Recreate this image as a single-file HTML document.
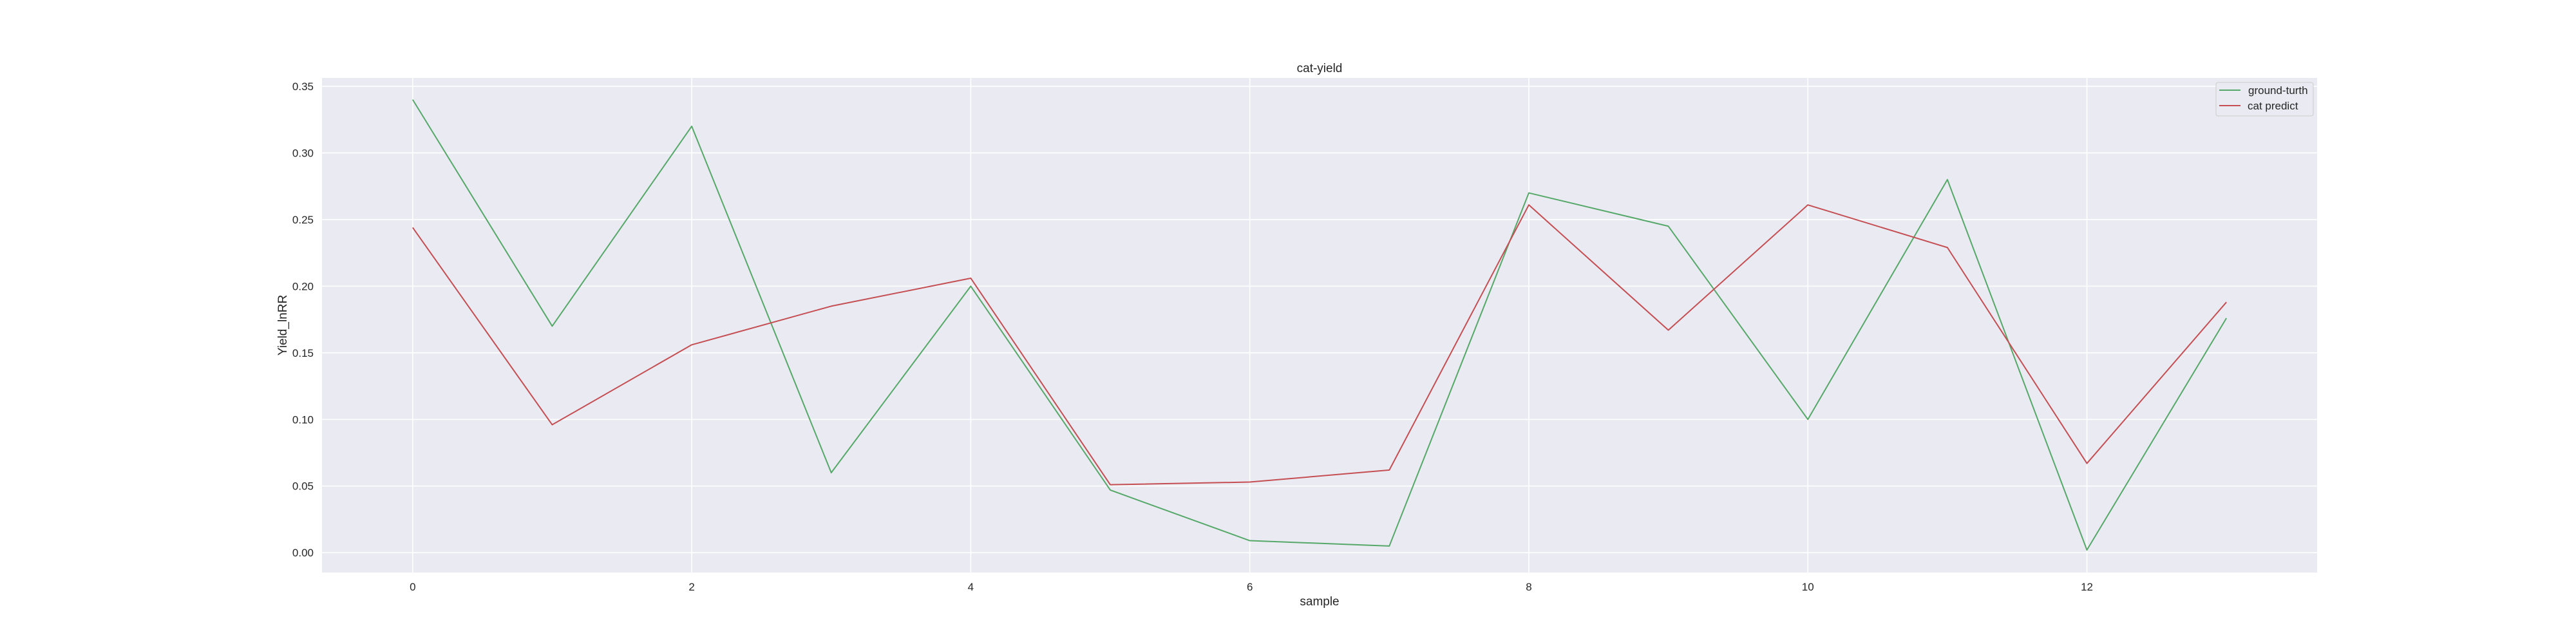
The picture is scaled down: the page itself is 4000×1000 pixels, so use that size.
<!DOCTYPE html>
<html><head><meta charset="utf-8"><style>
html,body{margin:0;padding:0;background:#fff;width:4000px;height:1000px;overflow:hidden}
text{font-family:"Liberation Sans",sans-serif;fill:#262626}
</style></head><body>
<svg id="chart" width="4000" height="1000" xmlns="http://www.w3.org/2000/svg">
<rect x="500" y="121" width="3098" height="768" fill="#eaeaf2"/>
<g id="grid"></g>
<g id="series"></g>
<g id="ticks"></g>
<text x="2049" y="112" font-size="19" text-anchor="middle">cat-yield</text>
<text x="2049" y="940" font-size="19" text-anchor="middle">sample</text>
<text x="0" y="0" font-size="19" text-anchor="middle" transform="translate(445,505) rotate(-90)">Yield_lnRR</text>
<g>
<rect x="3441" y="128" width="151" height="52" rx="3" fill="#eaeaf2" stroke="#cccccc" stroke-width="1"/>
<line x1="3446" y1="140" x2="3479" y2="140" stroke="#55a868" stroke-width="2"/>
<text x="3491" y="146" font-size="17">ground-turth</text>
<line x1="3446" y1="164" x2="3479" y2="164" stroke="#c44e52" stroke-width="2"/>
<text x="3490" y="170" font-size="17">cat predict</text>
</g>
</svg>
<script>
const samples=[0,1,2,3,4,5,6,7,8,9,10,11,12,13];
const groundTruth=[0.34,0.17,0.32,0.06,0.20,0.047,0.009,0.005,0.27,0.245,0.10,0.28,0.002,0.176];
const catPredict=[0.244,0.096,0.156,0.185,0.206,0.051,0.053,0.062,0.261,0.167,0.261,0.229,0.067,0.188];
const xTicks=[0,2,4,6,8,10,12];
const yTicks=[0,0.05,0.10,0.15,0.20,0.25,0.30,0.35];

const NS="http://www.w3.org/2000/svg";
const L=500,R=3598,T=121,B=889;
const xmin=-0.65,xmax=13.65,ymin=-0.0149,ymax=0.3563;
function xs(v){return L+(v-xmin)/(xmax-xmin)*(R-L);}
function ys(v){return B-(v-ymin)/(ymax-ymin)*(B-T);}
function mk(tag,attrs,parent){const e=document.createElementNS(NS,tag);for(const k in attrs)e.setAttribute(k,attrs[k]);parent.appendChild(e);return e;}
const grid=document.getElementById('grid'),ticks=document.getElementById('ticks'),ser=document.getElementById('series');
xTicks.forEach(t=>{
  const l=mk('line',{x1:xs(t),x2:xs(t),y1:T,y2:B,stroke:'#fff','stroke-width':1.6},grid);
  
  
  const tx=mk('text',{x:xs(t),y:917,'font-size':17,'text-anchor':'middle'},ticks);
  tx.textContent=String(t);
  
  
});
yTicks.forEach(t=>{
  const l=mk('line',{x1:L,x2:R,y1:ys(t),y2:ys(t),stroke:'#fff','stroke-width':1.6},grid);
  
  
  const tx=mk('text',{x:487,y:ys(t)+6,'font-size':17,'text-anchor':'end'},ticks);
  tx.textContent=t.toFixed(2);
  
  
});
function line(vals,color,name){
  const p=mk('polyline',{points:vals.map((v,i)=>xs(samples[i])+','+ys(v)).join(' '),fill:'none',stroke:color,'stroke-width':2,'stroke-linejoin':'round'},ser);
  
  
}
line(groundTruth,'#55a868','ground-truth-line');
line(catPredict,'#c44e52','cat-predict-line');
</script>
</body></html>
